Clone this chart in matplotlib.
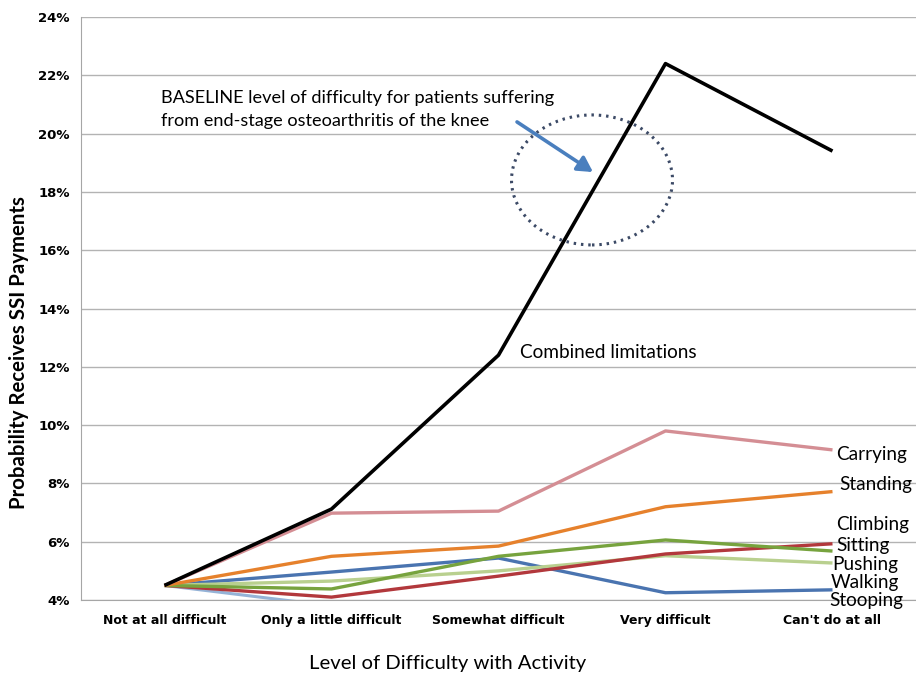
import matplotlib
matplotlib.use("Agg")
import matplotlib.pyplot as plt
from matplotlib.patches import Ellipse, FancyArrowPatch
from matplotlib.ticker import FuncFormatter

# Probability (%) of receiving SSI payments by level of difficulty
levels = ["Not at all difficult", "Only a little difficult", "Somewhat difficult",
          "Very difficult", "Can't do at all"]
combined = [4.5, 7.12, 12.4, 22.4, 19.4]
carrying = [4.5, 6.98, 7.05, 9.8, 9.15]
standing = [4.5, 5.5, 5.85, 7.2, 7.72]
stooping = [4.5, 4.96, 5.44, 4.25, 4.35]
climbing = [4.5, 4.38, 5.5, 6.06, 5.68]
sitting = [4.5, 4.1, 4.82, 5.58, 5.93]
pushing = [4.5, 4.65, 5.0, 5.52, 5.27]
walking = [4.5, 3.8, 3.7, 3.6, 3.6]

series = [
    (walking, "#95B3D7", 2.2),
    (stooping, "#4A74B0", 2.4),
    (pushing, "#B9D08F", 2.4),
    (sitting, "#B2383C", 2.4),
    (climbing, "#77A33E", 2.4),
    (standing, "#E6812C", 2.4),
    (carrying, "#D48E94", 2.4),
    (combined, "#000000", 2.6),
]

# label text, x in category units, y in percent
end_labels = [
    ("Carrying", 4.02, 9.0),
    ("Standing", 4.04, 7.95),
    ("Climbing", 4.02, 6.6),
    ("Sitting", 4.02, 5.88),
    ("Pushing", 4.0, 5.22),
    ("Walking", 3.99, 4.6),
    ("Stooping", 3.98, 3.98),
]

plt.rcParams["font.family"] = ["Lato", "DejaVu Sans"]

fig = plt.figure(figsize=(9.16, 6.79), dpi=100)
ax = fig.add_axes([0.0884, 0.1163, 0.9116, 0.8587])

x = list(range(len(levels)))
for vals, color, lw in series:
    ax.plot(x, vals, color=color, lw=lw, solid_capstyle="butt", zorder=3)

ax.set_xlim(-0.5, 4.5)
ax.set_ylim(4, 24)
ax.set_yticks(range(4, 25, 2))
ax.yaxis.set_major_formatter(FuncFormatter(lambda v, p: f"{v:.0f}%"))
ax.set_xticks(x)
ax.set_xticklabels(levels)
ax.grid(axis="y", color="#B3B3B3", lw=1)
ax.set_axisbelow(True)
for side in ["top", "right"]:
    ax.spines[side].set_visible(False)
for side in ["left", "bottom"]:
    ax.spines[side].set_color("#A6A6A6")
ax.tick_params(axis="y", length=0, pad=8, labelsize=9.5)
ax.tick_params(axis="x", length=0, pad=10, labelsize=9)
for t in ax.get_yticklabels() + ax.get_xticklabels():
    t.set_fontfamily("DejaVu Sans")
    t.set_fontweight("bold")

# axis titles placed on the figure
fig.text(448 / 916, 1 - 663 / 679, "Level of Difficulty with Activity",
         fontsize=14.6, ha="center", va="center")
fig.text(19 / 916, 1 - 353 / 679, "Probability Receives SSI Payments",
         fontsize=14.7, fontweight="bold", rotation=90, ha="center", va="center")

ax.text(2.13, 12.5, "Combined limitations", fontsize=13.7, va="center")
for label, lx, ly in end_labels:
    ax.text(lx, ly, label, fontsize=13.7, va="center", clip_on=False)

ax.text(-0.02, 20.83, "BASELINE level of difficulty for patients suffering\n"
        "from end-stage osteoarthritis of the knee",
        fontsize=13.1, va="center", linespacing=1.58)

ellipse = Ellipse((2.56, 18.41), 0.964, 4.46, fill=False, ls=(0, (0.8, 1.6)),
                  lw=2.2, edgecolor="#3C4A66", zorder=4)
ax.add_patch(ellipse)
arrow = FancyArrowPatch((2.111, 20.4), (2.566, 18.68),
                        arrowstyle="-|>,head_length=9,head_width=5",
                        color="#4A7FBE", lw=2.6, zorder=5, shrinkA=0, shrinkB=0)
ax.add_patch(arrow)

fig.savefig("out.png", dpi=100)
